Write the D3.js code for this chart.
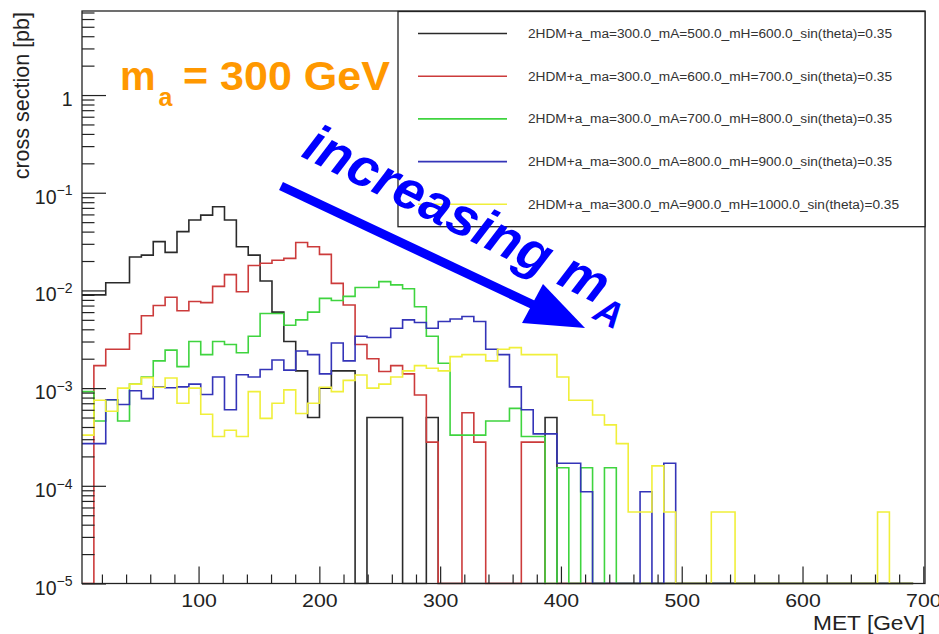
<!DOCTYPE html>
<html>
<head>
<meta charset="utf-8">
<script src="https://cdn.jsdelivr.net/npm/d3@7"></script>
<style>
  body { margin: 0; background: #fff; }
  svg { display: block; font-family: "Liberation Sans", Arial, Helvetica, sans-serif; }
</style>
</head>
<body>
<svg id="chart" width="939" height="634"></svg>
<script>
// ---- histogram binning (MET, GeV) ----
const binStart = 3.5;
const binWidth = 9.83;

// ---- legend entries ----
const seriesNames = [
  "2HDM+a_ma=300.0_mA=500.0_mH=600.0_sin(theta)=0.35",
  "2HDM+a_ma=300.0_mA=600.0_mH=700.0_sin(theta)=0.35",
  "2HDM+a_ma=300.0_mA=700.0_mH=800.0_sin(theta)=0.35",
  "2HDM+a_ma=300.0_mA=800.0_mH=900.0_sin(theta)=0.35",
  "2HDM+a_ma=300.0_mA=900.0_mH=1000.0_sin(theta)=0.35"
];

// ---- cross section per MET bin [pb] ----
const xsecMA500 = [
  0.009, 0.009, 0.012, 0.012, 0.022, 0.023, 0.0316, 0.0245, 0.040, 0.0526,
  0.059, 0.072, 0.0526, 0.028, 0.023, 0.0125, 0.006, 0.003, 0.0015, 0.0005,
  0.001, 0.0015, 0.0015, 0, 0.0005, 0.0005, 0.0005, 0, 0, 0.0005,
  0, 0, 0, 0, 0, 0, 0, 0, 0, 0.0005,
  0, 0, 0, 0, 0, 0, 0, 0, 0, 0,
  0, 0, 0, 0, 0, 0, 0, 0, 0, 0,
  0, 0, 0, 0, 0, 0, 0, 0, 0, 0
];
const xsecMA600 = [
  0, 0.0017, 0.0025, 0.0025, 0.0036, 0.0055, 0.007, 0.0085, 0.0062, 0.0077,
  0.0075, 0.011, 0.0145, 0.0097, 0.018, 0.019, 0.0204, 0.0213, 0.031, 0.028,
  0.0234, 0.0118, 0.0071, 0.0028, 0.002, 0.00148, 0.0017, 0.0014, 0.00085, 0.00028,
  0, 0, 0.00056, 0.00028, 0, 0, 0, 0.00028, 0.00028, 0,
  0, 0, 0, 0, 0, 0, 0, 0, 0, 0,
  0, 0, 0, 0, 0, 0, 0, 0, 0, 0,
  0, 0, 0, 0, 0, 0, 0, 0, 0, 0
];
const xsecMA700 = [
  0.00092, 0.00046, 0.00076, 0.00046, 0.0011, 0.0013, 0.0019, 0.00245, 0.00166, 0.003,
  0.0022, 0.003, 0.0028, 0.0023, 0.0034, 0.0058, 0.0058, 0.0044, 0.005, 0.006,
  0.0083, 0.0079, 0.0087, 0.0107, 0.0107, 0.0123, 0.0114, 0.0104, 0.0068, 0.0034,
  0.0018, 0.00033, 0.00033, 0.00033, 0.00046, 0.00046, 0.00062, 0.00032, 0.00032, 0,
  0.000153, 0, 0.000153, 0, 0.000153, 0, 0, 0, 0, 0,
  0, 0, 0, 0, 0, 0, 0, 0, 0, 0,
  0, 0, 0, 0, 0, 0, 0, 0, 0, 0
];
const xsecMA800 = [
  0.00027, 0.00027, 0.00076, 0.00068, 0.00094, 0.00078, 0.00103, 0.00101, 0.00103, 0.0011,
  0.00086, 0.0013, 0.0006, 0.00137, 0.0013, 0.00155, 0.00194, 0.00153, 0.0024, 0.0022,
  0.0014, 0.0029, 0.0019, 0.0034, 0.0033, 0.0033, 0.0041, 0.005, 0.0047, 0.0041,
  0.0048, 0.0051, 0.0054, 0.0048, 0.0025, 0.0022, 0.00103, 0.0006, 0.00034, 0.00034,
  0.00017, 0.00017, 0.000087, 0, 0, 0, 0, 0.000087, 0, 0.00017,
  0, 0, 0, 0, 0, 0, 0, 0, 0, 0,
  0, 0, 0, 0, 0, 0, 0, 0, 0, 0
];
const xsecMA900 = [
  0.00033, 0.00075, 0.00058, 0.001, 0.0011, 0.00128, 0.00102, 0.00127, 0.0007, 0.001,
  0.00054, 0.00032, 0.00037, 0.00032, 0.00092, 0.00049, 0.0007, 0.00096, 0.00055, 0.0007,
  0.00102, 0.00092, 0.0012, 0.00136, 0.001, 0.0011, 0.0013, 0.0015, 0.0017, 0.0016,
  0.0015, 0.0021, 0.0022, 0.0022, 0.0019, 0.0025, 0.0026, 0.0022, 0.0022, 0.0022,
  0.0013, 0.00075, 0.00075, 0.00053, 0.00042, 0.00027, 0.000054, 0.000054, 0.00016, 0.000054,
  0, 0, 0, 0.000054, 0.000054, 0, 0, 0, 0, 0,
  0, 0, 0, 0, 0, 0, 0, 0.000054, 0, 0
];

// ---- axis ticks ----
const xMajorTicks = [100, 200, 300, 400, 500, 600, 700];
const xMinorTicks = d3.range(20, 701, 20).filter(v => v % 100 !== 0);
const yDecades = [1e-5, 1e-4, 1e-3, 1e-2, 1e-1, 1];
const yDecadeLabels = [["10", "\u22125"], ["10", "\u22124"], ["10", "\u22123"], ["10", "\u22122"], ["10", "\u22121"], ["1", ""]];

// ---- styling ----
const seriesColors = ["#2a2a2a", "#cc3b3b", "#3fd43f", "#3434b8", "#f0ef3a"];
const allSeries = [xsecMA500, xsecMA600, xsecMA700, xsecMA800, xsecMA900];

const svg = d3.select("#chart");
const frame = { left: 82, right: 925, top: 11, bottom: 583.5 };
const yMin = 1e-5, yMax = 7.25;

const x = d3.scaleLinear().domain([3.5, 701.4]).range([frame.left, frame.right]);
const y = d3.scaleLog().domain([yMin, yMax]).range([frame.bottom, frame.top]);

svg.append("defs").append("clipPath").attr("id", "plotClip")
  .append("rect")
  .attr("x", frame.left).attr("y", frame.top - 1)
  .attr("width", frame.right - frame.left).attr("height", frame.bottom - frame.top + 2);

// ---- histograms (ROOT-style step outlines; empty bins sit on the frame floor) ----
const stepLine = d3.line()
  .x(d => x(d[0]))
  .y(d => y(Math.max(d[1], yMin)))
  .curve(d3.curveStepAfter);

const histG = svg.append("g").attr("clip-path", "url(#plotClip)");
allSeries.forEach((vals, s) => {
  const pts = vals.map((v, i) => [binStart + i * binWidth, v]);
  pts.push([binStart + vals.length * binWidth, vals[vals.length - 1]]);
  histG.append("path")
    .attr("d", stepLine(pts))
    .attr("fill", "none")
    .attr("stroke", seriesColors[s])
    .attr("stroke-width", 1.6)
    .attr("stroke-linejoin", "miter");
});

// ---- frame ----
svg.append("rect")
  .attr("x", frame.left).attr("y", frame.top)
  .attr("width", frame.right - frame.left).attr("height", frame.bottom - frame.top)
  .attr("fill", "none").attr("stroke", "#222").attr("stroke-width", 1.3);

// ---- x axis ----
const xAxisMajor = d3.axisBottom(x).tickValues(xMajorTicks).tickSize(-17).tickPadding(10).tickFormat(d3.format("d"));
const xAxisMinor = d3.axisBottom(x).tickValues(xMinorTicks).tickSize(-9).tickFormat("");
const gxMinor = svg.append("g").attr("transform", `translate(0,${frame.bottom})`).call(xAxisMinor);
const gx = svg.append("g").attr("transform", `translate(0,${frame.bottom})`).call(xAxisMajor);
[gx, gxMinor].forEach(g => {
  g.select(".domain").remove();
  g.selectAll(".tick line").attr("stroke", "#222").attr("stroke-width", 1.2);
});
gx.selectAll(".tick text")
  .attr("fill", "#222").attr("font-size", 19).attr("font-family", "Liberation Sans, Arial, sans-serif")
  .attr("textLength", 35.5).attr("lengthAdjust", "spacingAndGlyphs");

// ---- y axis (log) ----
const yMinorVals = [];
for (let e = -5; e <= 0; e++) {
  for (let m = 2; m <= 9; m++) {
    const v = m * Math.pow(10, e);
    if (v < yMax) yMinorVals.push(v);
  }
}
const yAxisMinor = d3.axisLeft(y).tickValues(yMinorVals).tickSize(-12.5).tickFormat("");
const yAxisMajor = d3.axisLeft(y).tickValues(yDecades).tickSize(-24).tickFormat("");
const gyMinor = svg.append("g").attr("transform", `translate(${frame.left},0)`).call(yAxisMinor);
const gy = svg.append("g").attr("transform", `translate(${frame.left},0)`).call(yAxisMajor);
[gy, gyMinor].forEach(g => {
  g.select(".domain").remove();
  g.selectAll(".tick line").attr("stroke", "#222").attr("stroke-width", 1.2);
});

gy.selectAll(".tick").each(function(d, i) {
  const lab = yDecadeLabels[i];
  const t = d3.select(this).append("text")
    .attr("x", -9.5).attr("y", 10.5)
    .attr("text-anchor", "end")
    .attr("fill", "#222")
    .attr("font-size", 19.5);
  t.append("tspan").text(lab[0]);
  if (lab[1]) {
    t.append("tspan").attr("dy", -8.3).attr("font-size", 14).text(lab[1]);
  }
});

// ---- axis titles ----
svg.append("text")
  .attr("transform", `translate(29,12) rotate(-90)`)
  .attr("text-anchor", "end")
  .attr("fill", "#222")
  .attr("font-size", 21.5)
  .text("cross section [pb]");

svg.append("text")
  .attr("x", 925).attr("y", 630)
  .attr("text-anchor", "end")
  .attr("fill", "#222")
  .attr("font-size", 19.5)
  .attr("textLength", 112).attr("lengthAdjust", "spacingAndGlyphs")
  .text("MET [GeV]");

// ---- legend ----
const legend = { left: 398, top: 11.5, right: 925, bottom: 226.7, row0: 33.5, rowStep: 42.7 };
svg.append("rect")
  .attr("x", legend.left).attr("y", legend.top)
  .attr("width", legend.right - legend.left).attr("height", legend.bottom - legend.top)
  .attr("fill", "#fff").attr("stroke", "#222").attr("stroke-width", 1.3);

seriesNames.forEach((name, i) => {
  const yy = legend.row0 + i * legend.rowStep;
  svg.append("line")
    .attr("x1", 418).attr("x2", 507).attr("y1", yy).attr("y2", yy)
    .attr("stroke", seriesColors[i]).attr("stroke-width", 1.6);
  svg.append("text")
    .attr("x", 528).attr("y", yy + 4.5)
    .attr("fill", "#333")
    .attr("font-size", 12.5)
    .attr("textLength", i === 4 ? 371 : 364).attr("lengthAdjust", "spacingAndGlyphs")
    .text(name);
});

// ---- annotation: m_a = 300 GeV ----
const orange = "#ff9800";
svg.append("text").attr("x", 120).attr("y", 90)
  .attr("font-size", 40).attr("font-weight", "bold").attr("fill", orange).text("m");
svg.append("text").attr("x", 158.5).attr("y", 106)
  .attr("font-size", 25).attr("font-weight", "bold").attr("fill", orange).text("a");
svg.append("text").attr("x", 183).attr("y", 90)
  .attr("font-size", 40).attr("font-weight", "bold").attr("fill", orange)
  .attr("textLength", 207).attr("lengthAdjust", "spacingAndGlyphs")
  .text("= 300 GeV");

// ---- annotation: increasing m_A arrow ----
const blue = "#0000ff";
svg.append("line")
  .attr("x1", 281).attr("y1", 186).attr("x2", 540).attr("y2", 308)
  .attr("stroke", blue).attr("stroke-width", 9);
svg.append("polygon")
  .attr("points", "585,328 522,323 543,284")
  .attr("fill", blue);

const incG = svg.append("g").attr("transform", "translate(300,156) rotate(26.5)");
const incText = incG.append("text")
  .attr("font-size", 54).attr("font-weight", "bold").attr("font-style", "italic").attr("fill", blue);
incText.append("tspan").text("increasing m");
incText.append("tspan").attr("font-size", 37).attr("dy", 15).text("A");
</script>
</body>
</html>
